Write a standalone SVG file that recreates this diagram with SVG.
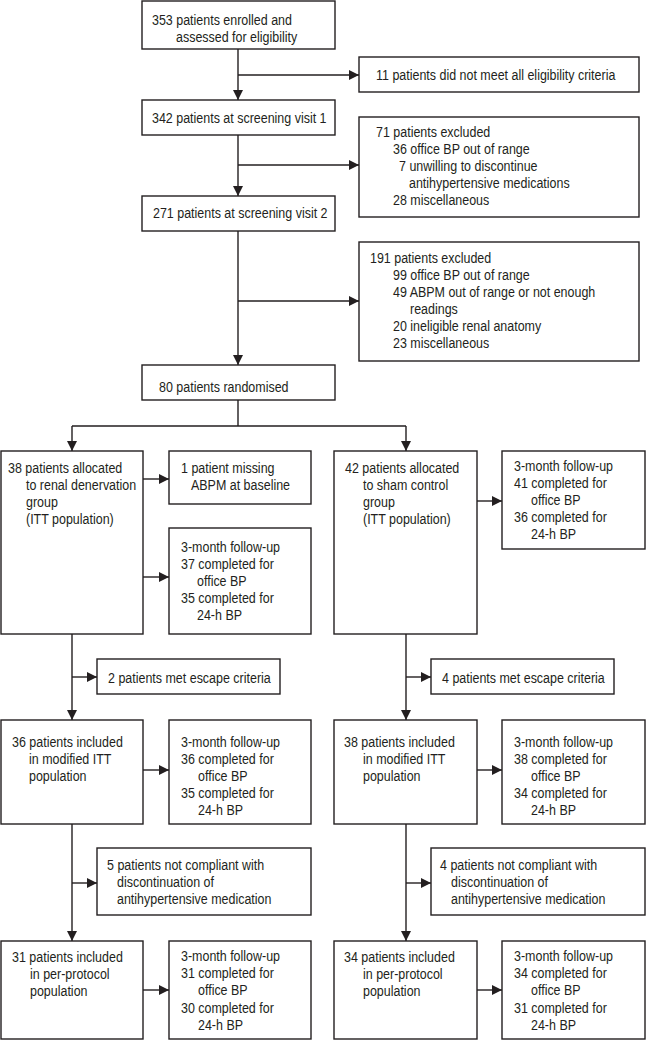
<svg xmlns="http://www.w3.org/2000/svg" width="646" height="1040" viewBox="0 0 646 1040">
<style>
rect{fill:#fff;stroke:#231f20;stroke-width:1.4}
text{font-family:"Liberation Sans",Arial,sans-serif;font-size:14px;fill:#231f20}
#connectors path{fill:none;stroke:#231f20;stroke-width:1.4}
</style>
<defs>
<marker id="ah" viewBox="0 0 10 10" refX="10" refY="5" markerWidth="10" markerHeight="10" markerUnits="userSpaceOnUse" orient="auto">
<path d="M0,0 L10,5 L0,10 Z" fill="#231f20"/>
</marker>
</defs>
<g id="connectors">
<path d="M238,49 V100" marker-end="url(#ah)"/>
<path d="M238,75 H359" marker-end="url(#ah)"/>
<path d="M238,135 V196" marker-end="url(#ah)"/>
<path d="M238,165 H359" marker-end="url(#ah)"/>
<path d="M238,231 V365" marker-end="url(#ah)"/>
<path d="M238,301 H359" marker-end="url(#ah)"/>
<path d="M238,400 V426 M72,426 H406"/>
<path d="M72,426 V451" marker-end="url(#ah)"/>
<path d="M406,426 V451" marker-end="url(#ah)"/>
<path d="M143,479 H169" marker-end="url(#ah)"/>
<path d="M143,577 H169" marker-end="url(#ah)"/>
<path d="M477,501 H502" marker-end="url(#ah)"/>
<path d="M72,634 V720" marker-end="url(#ah)"/>
<path d="M72,677 H97" marker-end="url(#ah)"/>
<path d="M406,634 V720" marker-end="url(#ah)"/>
<path d="M406,677 H431" marker-end="url(#ah)"/>
<path d="M143,770 H169" marker-end="url(#ah)"/>
<path d="M477,770 H502" marker-end="url(#ah)"/>
<path d="M72,824 V941" marker-end="url(#ah)"/>
<path d="M72,883 H97" marker-end="url(#ah)"/>
<path d="M406,824 V941" marker-end="url(#ah)"/>
<path d="M406,883 H431" marker-end="url(#ah)"/>
<path d="M143,990 H169" marker-end="url(#ah)"/>
<path d="M477,990 H502" marker-end="url(#ah)"/>
</g>
<g id="n-enrolled"><rect x="142" y="1" width="193" height="48"/>
<text transform="translate(152 25) scale(.89 1)">353 patients enrolled and</text>
<text transform="translate(176 42) scale(.89 1)">assessed for eligibility</text></g>
<g id="n-ineligible"><rect x="359" y="57" width="280" height="35"/>
<text transform="translate(376 80) scale(.89 1)">11 patients did not meet all eligibility criteria</text></g>
<g id="n-visit1"><rect x="142" y="100" width="193" height="35"/>
<text transform="translate(152 123) scale(.89 1)">342 patients at screening visit 1</text></g>
<g id="n-excl71"><rect x="359" y="117" width="280" height="100"/>
<text transform="translate(376 137) scale(.89 1)">71 patients excluded</text>
<text transform="translate(393 154) scale(.89 1)">36 office BP out of range</text>
<text transform="translate(399 171) scale(.89 1)">7 unwilling to discontinue</text>
<text transform="translate(409 188) scale(.89 1)">antihypertensive medications</text>
<text transform="translate(393 205) scale(.89 1)">28 miscellaneous</text></g>
<g id="n-visit2"><rect x="142" y="196" width="193" height="35"/>
<text transform="translate(153 218) scale(.89 1)">271 patients at screening visit 2</text></g>
<g id="n-excl191"><rect x="359" y="242" width="280" height="119"/>
<text transform="translate(370 263) scale(.89 1)">191 patients excluded</text>
<text transform="translate(393 280) scale(.89 1)">99 office BP out of range</text>
<text transform="translate(393 297) scale(.89 1)">49 ABPM out of range or not enough</text>
<text transform="translate(410 314) scale(.89 1)">readings</text>
<text transform="translate(393 331) scale(.89 1)">20 ineligible renal anatomy</text>
<text transform="translate(393 348) scale(.89 1)">23 miscellaneous</text></g>
<g id="n-random"><rect x="142" y="365" width="193" height="35"/>
<text transform="translate(159 392) scale(.89 1)">80 patients randomised</text></g>
<g id="n-rdn"><rect x="1" y="451" width="142" height="183"/>
<text transform="translate(8 473) scale(.89 1)">38 patients allocated</text>
<text transform="translate(26 490) scale(.89 1)">to renal denervation</text>
<text transform="translate(26 507) scale(.89 1)">group</text>
<text transform="translate(26 524) scale(.89 1)">(ITT population)</text></g>
<g id="n-missing"><rect x="169" y="451" width="142" height="53"/>
<text transform="translate(181 473) scale(.89 1)">1 patient missing</text>
<text transform="translate(191 490) scale(.89 1)">ABPM at baseline</text></g>
<g id="n-rdn-fu"><rect x="169" y="528" width="142" height="106"/>
<text transform="translate(181 552) scale(.89 1)">3-month follow-up</text>
<text transform="translate(181 569) scale(.89 1)">37 completed for</text>
<text transform="translate(197 586) scale(.89 1)">office BP</text>
<text transform="translate(181 603) scale(.89 1)">35 completed for</text>
<text transform="translate(197 620) scale(.89 1)">24-h BP</text></g>
<g id="n-sham"><rect x="334" y="451" width="143" height="183"/>
<text transform="translate(345 473) scale(.89 1)">42 patients allocated</text>
<text transform="translate(363 490) scale(.89 1)">to sham control</text>
<text transform="translate(363 507) scale(.89 1)">group</text>
<text transform="translate(363 524) scale(.89 1)">(ITT population)</text></g>
<g id="n-sham-fu"><rect x="502" y="451" width="143" height="98"/>
<text transform="translate(514 471) scale(.89 1)">3-month follow-up</text>
<text transform="translate(514 488) scale(.89 1)">41 completed for</text>
<text transform="translate(531 505) scale(.89 1)">office BP</text>
<text transform="translate(514 522) scale(.89 1)">36 completed for</text>
<text transform="translate(531 539) scale(.89 1)">24-h BP</text></g>
<g id="n-esc-l"><rect x="97" y="659" width="183" height="35"/>
<text transform="translate(108 683) scale(.89 1)">2 patients met escape criteria</text></g>
<g id="n-esc-r"><rect x="431" y="659" width="183" height="35"/>
<text transform="translate(442 683) scale(.89 1)">4 patients met escape criteria</text></g>
<g id="n-mitt-l"><rect x="1" y="720" width="142" height="104"/>
<text transform="translate(12 747) scale(.89 1)">36 patients included</text>
<text transform="translate(29 764) scale(.89 1)">in modified ITT</text>
<text transform="translate(29 781) scale(.89 1)">population</text></g>
<g id="n-mitt-l-fu"><rect x="169" y="720" width="142" height="104"/>
<text transform="translate(181 747) scale(.89 1)">3-month follow-up</text>
<text transform="translate(181 764) scale(.89 1)">36 completed for</text>
<text transform="translate(198 781) scale(.89 1)">office BP</text>
<text transform="translate(181 798) scale(.89 1)">35 completed for</text>
<text transform="translate(198 815) scale(.89 1)">24-h BP</text></g>
<g id="n-mitt-r"><rect x="334" y="720" width="143" height="104"/>
<text transform="translate(344 747) scale(.89 1)">38 patients included</text>
<text transform="translate(363 764) scale(.89 1)">in modified ITT</text>
<text transform="translate(363 781) scale(.89 1)">population</text></g>
<g id="n-mitt-r-fu"><rect x="502" y="720" width="143" height="104"/>
<text transform="translate(514 747) scale(.89 1)">3-month follow-up</text>
<text transform="translate(514 764) scale(.89 1)">38 completed for</text>
<text transform="translate(531 781) scale(.89 1)">office BP</text>
<text transform="translate(514 798) scale(.89 1)">34 completed for</text>
<text transform="translate(531 815) scale(.89 1)">24-h BP</text></g>
<g id="n-nc-l"><rect x="97" y="848" width="214" height="67"/>
<text transform="translate(107 870) scale(.89 1)">5 patients not compliant with</text>
<text transform="translate(117 887) scale(.89 1)">discontinuation of</text>
<text transform="translate(117 904) scale(.89 1)">antihypertensive medication</text></g>
<g id="n-nc-r"><rect x="431" y="848" width="214" height="67"/>
<text transform="translate(440 870) scale(.89 1)">4 patients not compliant with</text>
<text transform="translate(451 887) scale(.89 1)">discontinuation of</text>
<text transform="translate(451 904) scale(.89 1)">antihypertensive medication</text></g>
<g id="n-pp-l"><rect x="1" y="941" width="142" height="98"/>
<text transform="translate(12 962) scale(.89 1)">31 patients included</text>
<text transform="translate(30 979) scale(.89 1)">in per-protocol</text>
<text transform="translate(30 996) scale(.89 1)">population</text></g>
<g id="n-pp-l-fu"><rect x="169" y="941" width="142" height="98"/>
<text transform="translate(181 961) scale(.89 1)">3-month follow-up</text>
<text transform="translate(181 978) scale(.89 1)">31 completed for</text>
<text transform="translate(198 995) scale(.89 1)">office BP</text>
<text transform="translate(181 1013) scale(.89 1)">30 completed for</text>
<text transform="translate(198 1030) scale(.89 1)">24-h BP</text></g>
<g id="n-pp-r"><rect x="334" y="941" width="143" height="98"/>
<text transform="translate(344 962) scale(.89 1)">34 patients included</text>
<text transform="translate(363 979) scale(.89 1)">in per-protocol</text>
<text transform="translate(363 996) scale(.89 1)">population</text></g>
<g id="n-pp-r-fu"><rect x="502" y="941" width="143" height="98"/>
<text transform="translate(514 961) scale(.89 1)">3-month follow-up</text>
<text transform="translate(514 978) scale(.89 1)">34 completed for</text>
<text transform="translate(531 995) scale(.89 1)">office BP</text>
<text transform="translate(514 1013) scale(.89 1)">31 completed for</text>
<text transform="translate(531 1030) scale(.89 1)">24-h BP</text></g>
</svg>
